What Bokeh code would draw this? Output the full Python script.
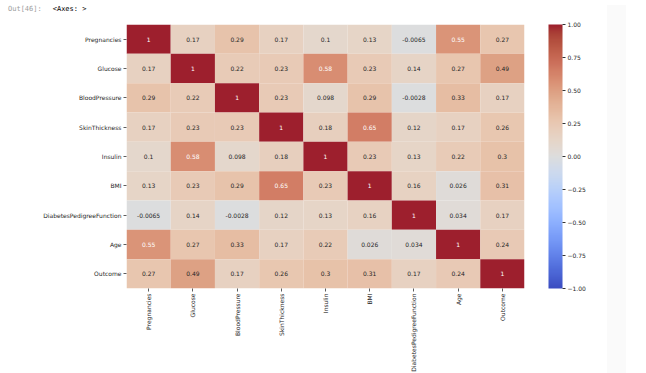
import math
from bokeh.plotting import figure
from bokeh.models import (ColumnDataSource, LinearColorMapper, ColorBar, FixedTicker,
                          FactorRange, Div)
from bokeh.layouts import row, column
from bokeh.transform import transform
from bokeh.core.properties import value
from bokeh.embed import file_html
from bokeh.resources import INLINE

# ---------------- data ----------------
features = ["Pregnancies", "Glucose", "BloodPressure", "SkinThickness", "Insulin",
            "BMI", "DiabetesPedigreeFunction", "Age", "Outcome"]

r_pregnancies = [1, 0.17, 0.29, 0.17, 0.1, 0.13, -0.0065, 0.55, 0.27]
r_glucose = [0.17, 1, 0.22, 0.23, 0.58, 0.23, 0.14, 0.27, 0.49]
r_bloodpressure = [0.29, 0.22, 1, 0.23, 0.098, 0.29, -0.0028, 0.33, 0.17]
r_skinthickness = [0.17, 0.23, 0.23, 1, 0.18, 0.65, 0.12, 0.17, 0.26]
r_insulin = [0.1, 0.58, 0.098, 0.18, 1, 0.23, 0.13, 0.22, 0.3]
r_bmi = [0.13, 0.23, 0.29, 0.65, 0.23, 1, 0.16, 0.026, 0.31]
r_dpf = [-0.0065, 0.14, -0.0028, 0.12, 0.13, 0.16, 1, 0.034, 0.17]
r_age = [0.55, 0.27, 0.33, 0.17, 0.22, 0.026, 0.034, 1, 0.24]
r_outcome = [0.27, 0.49, 0.17, 0.26, 0.3, 0.31, 0.17, 0.24, 1]

matrix_rows = [r_pregnancies, r_glucose, r_bloodpressure, r_skinthickness, r_insulin,
               r_bmi, r_dpf, r_age, r_outcome]

cbar_ticks = [-1.0, -0.75, -0.5, -0.25, 0.0, 0.25, 0.5, 0.75, 1.0]
cbar_labels = ["\u22121.00", "\u22120.75", "\u22120.50", "\u22120.25", "0.00",
               "0.25", "0.50", "0.75", "1.00"]

out_prompt = "Out[46]:"
out_repr = "<Axes: >"

# ---------------- coolwarm-like palette (muted like the screenshot) ----------------
anchors = [
    (59, 76, 192), (68, 90, 204), (77, 104, 215), (87, 117, 225), (98, 130, 234),
    (108, 142, 241), (119, 154, 247), (130, 165, 251), (141, 176, 254), (152, 185, 255),
    (163, 194, 255), (174, 201, 253), (184, 208, 249), (194, 213, 244), (204, 217, 238),
    (213, 219, 230), (221, 221, 221), (229, 216, 209), (236, 211, 197), (241, 204, 185),
    (245, 196, 173), (247, 187, 160), (247, 177, 148), (247, 166, 135), (244, 154, 123),
    (241, 141, 111), (236, 127, 99), (229, 112, 88), (222, 96, 77), (213, 80, 66),
    (203, 62, 56), (192, 40, 47), (180, 4, 38)]
palette = []
n = 256
for i in range(n):
    t = i / (n - 1) * (len(anchors) - 1)
    k = min(int(t), len(anchors) - 2)
    f = t - k
    c = [anchors[k][j] + (anchors[k + 1][j] - anchors[k][j]) * f for j in range(3)]
    u = i / (n - 1) * 2 - 1  # position in [-1, 1]
    if u > 0:
        c[0] -= 23 * min(1.0, u / 0.45)
        c[1] += 5 * min(1.0, u / 0.3) + 22 * max(0.0, (u - 0.7) / 0.3)
        c[2] += 7 * min(1.0, u / 0.3)
    c = [max(0, min(255, round(x))) for x in c]
    palette.append("#%02x%02x%02x" % tuple(c))

mapper = LinearColorMapper(palette=palette, low=-1, high=1)

xs, ys, vals, txt, tcol = [], [], [], [], []
for rname, rvals in zip(features, matrix_rows):
    for cname, v in zip(features, rvals):
        xs.append(cname)
        ys.append(rname)
        vals.append(v)
        txt.append(format(v, ".2g"))
        tcol.append("#ffffff" if v > 0.5 else "#262626")
src = ColumnDataSource(dict(x=xs, y=ys, v=vals, t=txt, tc=tcol))

FONT = "DejaVu Sans"

p = figure(x_range=FactorRange(*features), y_range=FactorRange(*features[::-1]),
           frame_width=398, frame_height=264,
           min_border_left=126, min_border_top=6, min_border_right=78, min_border_bottom=60,
           output_backend="svg", toolbar_location=None,
           background_fill_color="white", border_fill_color="white")
p.outline_line_color = None
p.grid.visible = False

p.rect(x="x", y="y", width=1, height=1, source=src,
       fill_color=transform("v", mapper), line_color=None)
p.text(x="x", y="y", text="t", source=src, text_color="tc",
       text_align="center", text_baseline="middle",
       text_font=value(FONT), text_font_size="6px")

for ax in (p.xaxis[0], p.yaxis[0]):
    ax.axis_line_color = None
    ax.major_tick_in = 0
    ax.major_tick_out = 3
    ax.major_tick_line_color = "#333333"
    ax.major_tick_line_width = 0.8
    ax.minor_tick_line_color = None
    ax.major_label_text_font = FONT
    ax.major_label_text_font_size = "6px"
    ax.major_label_text_color = "#262626"
    ax.major_label_standoff = 2
p.xaxis.major_label_orientation = math.pi / 2

cb = ColorBar(color_mapper=mapper, width=14, height=264, padding=0, margin=0,
              ticker=FixedTicker(ticks=cbar_ticks),
              major_label_overrides={t: l for t, l in zip(cbar_ticks, cbar_labels)},
              major_tick_in=0, major_tick_out=3, major_tick_line_color="#333333",
              label_standoff=2, major_label_text_font=FONT,
              major_label_text_font_size="6px", major_label_text_color="#262626",
              bar_line_color=None, border_line_color=None, background_fill_color=None,
              location=(422, 0))
p.add_layout(cb, "center")

head = Div(
    text=('<span style="color:#9e9e9e">%s</span>'
          '<span style="color:#000000; margin-left:11px">%s</span>')
         % (out_prompt.replace("<", "&lt;").replace(">", "&gt;"),
            out_repr.replace("<", "&lt;").replace(">", "&gt;")),
    width=602, height=18,
    styles={"font-family": "'DejaVu Sans Mono', monospace", "font-size": "7px",
            "line-height": "18px", "padding-left": "8px", "white-space": "pre",
            "margin": "0"})

strip = Div(text="", width=19, height=368,
            styles={"background-color": "#fafafa"})

layout = row(column(head, p), strip)
open("out.html", "w").write(file_html(layout, INLINE))
